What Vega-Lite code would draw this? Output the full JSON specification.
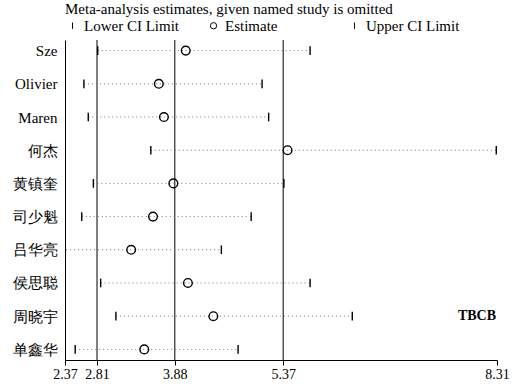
{
  "$schema": "https://vega.github.io/schema/vega-lite/v6.json",
  "width": 432,
  "height": 320,
  "autosize": {"type": "none"},
  "padding": {"left": 65, "top": 40, "right": 18, "bottom": 27},
  "background": "white",
  "config": {
    "view": {"stroke": null},
    "font": "Times New Roman, serif",
    "axis": {"labelColor": "black", "domainColor": "black", "tickColor": "black", "grid": false}
  },
  "datasets": {
    "refs": [{"x": 2.81}, {"x": 3.88}, {"x": 5.37}],
    "studies": [
      {"study": "Sze", "lo": 2.82, "est": 4.03, "hi": 5.74},
      {"study": "Olivier", "lo": 2.63, "est": 3.66, "hi": 5.08},
      {"study": "Maren", "lo": 2.69, "est": 3.73, "hi": 5.17},
      {"study": "何杰", "lo": 3.55, "est": 5.43, "hi": 8.30},
      {"study": "黄镇奎", "lo": 2.76, "est": 3.86, "hi": 5.38},
      {"study": "司少魁", "lo": 2.60, "est": 3.58, "hi": 4.93},
      {"study": "吕华亮", "lo": 2.33, "est": 3.28, "hi": 4.52},
      {"study": "侯思聪", "lo": 2.86, "est": 4.06, "hi": 5.74},
      {"study": "周晓宇", "lo": 3.07, "est": 4.41, "hi": 6.32},
      {"study": "单鑫华", "lo": 2.51, "est": 3.46, "hi": 4.75}
    ],
    "notes": [{"study": "周晓宇", "x": 8.31, "label": "TBCB"}]
  },
  "layer": [
    {
      "data": {"name": "refs"},
      "mark": {"type": "rule", "color": "black", "strokeWidth": 1},
      "encoding": {
        "x": {
          "field": "x", "type": "quantitative",
          "scale": {"domain": [2.37, 8.31], "nice": false, "zero": false},
          "axis": {
            "title": null, "values": [2.37, 2.81, 3.88, 5.37, 8.31], "format": ".2f",
            "labelOverlap": false, "labelFlush": false, "tickSize": 5, "labelFontSize": 14,
            "labelPadding": 2,
            "encode": {"labels": {"update": {"font": {"value": "Times New Roman, serif"}}}}
          }
        }
      }
    },
    {
      "data": {"name": "studies"},
      "mark": {"type": "rule", "strokeDash": [1, 3], "color": "#777777", "strokeWidth": 1, "clip": true},
      "encoding": {
        "y": {
          "field": "study", "type": "nominal",
          "scale": {"type": "point", "padding": 0.32, "domain": ["Sze", "Olivier", "Maren", "何杰", "黄镇奎", "司少魁", "吕华亮", "侯思聪", "周晓宇", "单鑫华"]},
          "axis": {
            "title": null, "ticks": false, "labelPadding": 8, "labelFontSize": 15,
            "encode": {"labels": {"update": {"font": {"value": "Times New Roman, serif"}}}}
          }
        },
        "x": {"field": "lo", "type": "quantitative", "title": null},
        "x2": {"field": "hi"}
      }
    },
    {
      "data": {"name": "studies"},
      "transform": [{"fold": ["lo", "est", "hi"], "as": ["type", "value"]}],
      "mark": {"type": "point", "filled": false, "color": "black", "size": 75, "strokeWidth": 1.4, "opacity": 1, "clip": true},
      "encoding": {
        "y": {"field": "study", "type": "nominal"},
        "x": {"field": "value", "type": "quantitative", "title": null},
        "shape": {
          "field": "type", "type": "nominal",
          "scale": {"domain": ["lo", "est", "hi"], "range": ["M0,-1L0,1", "circle", "M0,-1L0,1"]},
          "legend": {
            "title": "Meta-analysis estimates, given named study is omitted",
            "orient": "top", "direction": "horizontal", "columns": 3, "gridAlign": "all",
            "columnPadding": 27, "offset": 6, "padding": 0, "titleLimit": 600, "labelLimit": 300,
            "titleFont": "Times New Roman, serif", "titleFontSize": 15, "titleFontWeight": "normal", "titleColor": "black", "titlePadding": 1,
            "labelFont": "Times New Roman, serif", "labelFontSize": 15, "labelColor": "black", "labelOffset": 4,
            "symbolSize": 40, "symbolStrokeColor": "black", "symbolStrokeWidth": 1,
            "labelExpr": "datum.label == 'lo' ? 'Lower CI Limit' : datum.label == 'est' ? 'Estimate' : 'Upper CI Limit'"
          }
        }
      }
    },
    {
      "data": {"name": "notes"},
      "mark": {"type": "text", "align": "right", "baseline": "middle", "dx": -1, "fontSize": 14, "fontWeight": "bold", "font": "Times New Roman, serif", "color": "black"},
      "encoding": {
        "y": {"field": "study", "type": "nominal"},
        "x": {"field": "x", "type": "quantitative", "title": null},
        "text": {"field": "label"}
      }
    }
  ]
}
